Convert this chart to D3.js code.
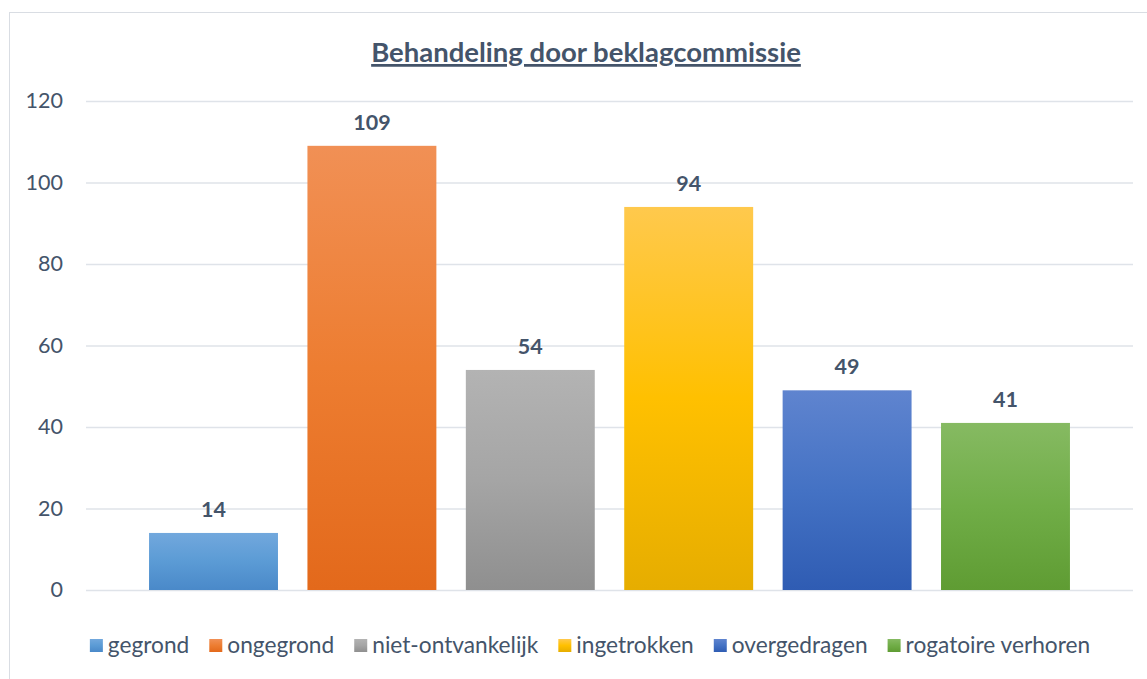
<!DOCTYPE html>
<html>
<head>
<meta charset="utf-8">
<script src="https://cdn.jsdelivr.net/npm/d3@7"></script>
<style>
  html, body { margin: 0; padding: 0; background: #fff; }
  svg { display: block; font-family: Lato, "Open Sans", sans-serif; }
</style>
</head>
<body>
<svg id="chart" width="1147" height="679"></svg>
<script>
const categories = ["gegrond", "ongegrond", "niet-ontvankelijk", "ingetrokken", "overgedragen", "rogatoire verhoren"];
const values = [14, 109, 54, 94, 49, 41];
const yTicks = [0, 20, 40, 60, 80, 100, 120];
const colorTop = ["#72a8dd", "#f19055", "#b3b3b3", "#ffc94d", "#5f84cf", "#86ba62"];
const colorMid = ["#5b9bd5", "#ed7d31", "#a5a5a5", "#ffc000", "#4472c4", "#70ad47"];
const colorBot = ["#4a89c9", "#e3691b", "#8f8f8f", "#e6ad00", "#2f5cb3", "#5f9c33"];
const title = "Behandeling door beklagcommissie";

const svg = d3.select("#chart");
const textColor = "#44546a";

// chart frame
svg.append("rect").attr("x", 9.5).attr("y", 12.5).attr("width", 1160).attr("height", 700)
  .attr("fill", "#fff").attr("stroke", "#d9dde3").attr("stroke-width", 1);

const plot = { left: 86, right: 1133, top: 101, bottom: 590 };

const x = d3.scaleBand().domain(categories).range([plot.left, plot.right])
  .paddingInner(0.186).paddingOuter(0.398);
const y = d3.scaleLinear().domain([0, 120]).range([plot.bottom, plot.top]);

// gradients
const defs = svg.append("defs");
categories.forEach((c, i) => {
  const g = defs.append("linearGradient").attr("id", "grad" + i)
    .attr("x1", 0).attr("y1", 0).attr("x2", 0).attr("y2", 1);
  g.append("stop").attr("offset", "0%").attr("stop-color", colorTop[i]);
  g.append("stop").attr("offset", "50%").attr("stop-color", colorMid[i]);
  g.append("stop").attr("offset", "100%").attr("stop-color", colorBot[i]);
});

// gridlines
const yAxis = d3.axisLeft(y).tickValues(yTicks).tickSize(-(plot.right - plot.left)).tickPadding(23);
const ga = svg.append("g").attr("transform", `translate(${plot.left},0)`).call(yAxis);
ga.select(".domain").remove();
ga.selectAll(".tick line").attr("stroke", "#dfe3e9").attr("stroke-width", 1.5);
ga.selectAll(".tick text").attr("fill", textColor).style("font-size", "21.5px")
  .style("font-family", "Lato, 'Open Sans', sans-serif");

// bars
svg.append("g").selectAll("rect").data(values).join("rect")
  .attr("x", (d, i) => x(categories[i]))
  .attr("y", d => y(d))
  .attr("width", x.bandwidth())
  .attr("height", d => y(0) - y(d))
  .attr("fill", (d, i) => `url(#grad${i})`);

// data labels
svg.append("g").selectAll("text").data(values).join("text")
  .attr("x", (d, i) => x(categories[i]) + x.bandwidth() / 2)
  .attr("y", d => y(d) - 16)
  .attr("text-anchor", "middle")
  .attr("fill", textColor)
  .style("font-size", "21.5px").style("font-weight", "bold")
  .text(d => d);

// title
svg.append("text").attr("x", 586).attr("y", 62).attr("text-anchor", "middle")
  .attr("fill", textColor).style("font-size", "27.5px").style("font-weight", "bold")
  .style("text-decoration", "underline")
  .text(title);

// legend
const lg = svg.append("g");
const items = lg.selectAll("g").data(categories).join("g");
items.append("rect").attr("width", 13).attr("height", 13).attr("y", -14)
  .attr("fill", (d, i) => `url(#grad${i})`);
items.append("text").attr("x", 18).attr("y", 0).attr("fill", textColor)
  .style("font-size", "22.7px").text(d => d);
let cx = 0;
const gap = 20;
items.each(function () {
  const w = 18 + d3.select(this).select("text").node().getComputedTextLength();
  d3.select(this).attr("transform", `translate(${cx},0)`);
  cx += w + gap;
});
const totalW = cx - gap;
lg.attr("transform", `translate(${590 - totalW / 2},653)`);
</script>
</body>
</html>
